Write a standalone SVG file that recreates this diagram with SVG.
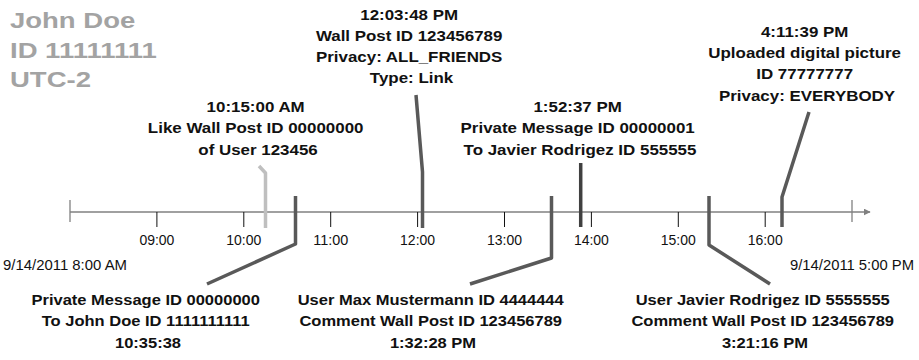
<svg xmlns="http://www.w3.org/2000/svg" width="919" height="360" viewBox="0 0 919 360">
  <style>
    .title { font-family: "Liberation Sans", Arial, sans-serif; font-weight: bold; font-size: 22px; fill: #a3a3a3; }
    .lbl { font-family: "Liberation Sans", Arial, sans-serif; font-weight: bold; font-size: 14px; fill: #111; text-anchor: middle; }
    .hour { font-family: "Liberation Sans", Arial, sans-serif; font-size: 14px; fill: #111; text-anchor: middle; }
    .date { font-family: "Liberation Sans", Arial, sans-serif; font-size: 14px; fill: #111; }
    .axis { stroke: #808080; stroke-width: 1.3; fill: none; }
    .tick { stroke: #111; stroke-width: 1; }
    .edge { stroke: #808080; stroke-width: 1.3; }
    .conn { fill: none; stroke: #595959; stroke-width: 3.5; stroke-linejoin: round; }
    .conn.light { stroke: #bfbfbf; }
    .conn.dark { stroke: #404040; }
  </style>
  <defs>
    <marker id="arrow" viewBox="0 0 10 10" refX="9" refY="5" markerWidth="7" markerHeight="7" markerUnits="userSpaceOnUse" orient="auto">
      <path d="M0,0 L10,5 L0,10 z" fill="#808080"/>
    </marker>
  </defs>

  <!-- Person header -->
  <g id="header">
    <text class="title" transform="translate(10 27.5) scale(1.25 1)">John Doe</text>
    <text class="title" transform="translate(10 57.5) scale(1.25 1)">ID 11111111</text>
    <text class="title" transform="translate(10 87) scale(1.25 1)">UTC-2</text>
  </g>

  <!-- Time axis 8:00 .. 17:00 -->
  <g id="axis">
    <line class="axis" x1="70" y1="212" x2="870" y2="212" marker-end="url(#arrow)"/>
    <line class="edge" x1="70" y1="200" x2="70" y2="222"/>
    <line class="edge" x1="852" y1="200" x2="852" y2="222"/>
    <g class="ticks">
      <line class="tick" x1="156.9" y1="212" x2="156.9" y2="227"/>
      <line class="tick" x1="243.8" y1="212" x2="243.8" y2="227"/>
      <line class="tick" x1="330.7" y1="212" x2="330.7" y2="227"/>
      <line class="tick" x1="417.6" y1="212" x2="417.6" y2="227"/>
      <line class="tick" x1="504.5" y1="212" x2="504.5" y2="227"/>
      <line class="tick" x1="591.4" y1="212" x2="591.4" y2="227"/>
      <line class="tick" x1="678.3" y1="212" x2="678.3" y2="227"/>
      <line class="tick" x1="765.2" y1="212" x2="765.2" y2="227"/>
    </g>
    <text class="hour" x="156.9" y="245" textLength="35" lengthAdjust="spacingAndGlyphs">09:00</text>
    <text class="hour" x="243.8" y="245" textLength="35" lengthAdjust="spacingAndGlyphs">10:00</text>
    <text class="hour" x="330.7" y="245" textLength="35" lengthAdjust="spacingAndGlyphs">11:00</text>
    <text class="hour" x="417.6" y="245" textLength="35" lengthAdjust="spacingAndGlyphs">12:00</text>
    <text class="hour" x="504.5" y="245" textLength="35" lengthAdjust="spacingAndGlyphs">13:00</text>
    <text class="hour" x="591.4" y="245" textLength="35" lengthAdjust="spacingAndGlyphs">14:00</text>
    <text class="hour" x="678.3" y="245" textLength="35" lengthAdjust="spacingAndGlyphs">15:00</text>
    <text class="hour" x="765.2" y="245" textLength="35" lengthAdjust="spacingAndGlyphs">16:00</text>
    <text class="date" x="3" y="270" textLength="124" lengthAdjust="spacingAndGlyphs">9/14/2011 8:00 AM</text>
    <text class="date" x="790" y="270" textLength="124" lengthAdjust="spacingAndGlyphs">9/14/2011 5:00 PM</text>
  </g>

  <!-- Event callout lines -->
  <g id="connectors">
    <path class="conn light" d="M259,166 L265.5,173 L265.5,228"/>
    <path class="conn" d="M295.5,196 L295.5,244 L207,284"/>
    <path class="conn" d="M416,95 L422.5,172 L422.5,228"/>
    <path class="conn" d="M551.5,196 L551.5,258 L470,284"/>
    <path class="conn dark" d="M580.7,163 L580.7,227"/>
    <path class="conn" d="M709,196 L709,245 L770,284"/>
    <path class="conn" d="M782,227 L782,197 L809,112"/>
  </g>

  <!-- Events above the axis -->
  <g id="ev-like">
    <text class="lbl" transform="translate(258 112) scale(1.21 1)">
      <tspan x="0" dy="0">10:15:00 AM</tspan>
      <tspan x="0" dy="21.5">Like Wall Post ID 00000000</tspan>
      <tspan x="0" dy="21.5">of User 123456</tspan>
    </text>
  </g>
  <g id="ev-wallpost">
    <text class="lbl" transform="translate(411.5 19.5) scale(1.21 1)">
      <tspan x="0" dy="0">12:03:48 PM</tspan>
      <tspan x="0" dy="21.2">Wall Post ID 123456789</tspan>
      <tspan x="0" dy="21.2">Privacy: ALL_FRIENDS</tspan>
      <tspan x="0" dy="21.2">Type: Link</tspan>
    </text>
  </g>
  <g id="ev-pm-javier">
    <text class="lbl" transform="translate(580 112) scale(1.21 1)">
      <tspan x="0" dy="0">1:52:37 PM</tspan>
      <tspan x="0" dy="21.5">Private Message ID 00000001</tspan>
      <tspan x="0" dy="21.5">To Javier Rodrigez ID 555555</tspan>
    </text>
  </g>
  <g id="ev-upload">
    <text class="lbl" transform="translate(807 37) scale(1.21 1)">
      <tspan x="0" dy="0">4:11:39 PM</tspan>
      <tspan x="0" dy="21.2">Uploaded digital picture</tspan>
      <tspan x="0" dy="21.2">ID 77777777</tspan>
      <tspan x="0" dy="21.2">Privacy: EVERYBODY</tspan>
    </text>
  </g>

  <!-- Events below the axis -->
  <g id="ev-pm-john">
    <text class="lbl" transform="translate(148 305) scale(1.18 1)">
      <tspan x="0" dy="0">Private Message ID 00000000</tspan>
      <tspan x="0" dy="21.5">To John Doe ID 1111111111</tspan>
      <tspan x="0" dy="21.5">10:35:38</tspan>
    </text>
  </g>
  <g id="ev-comment-max">
    <text class="lbl" transform="translate(433 305) scale(1.18 1)">
      <tspan x="0" dy="0">User Max Mustermann ID 4444444</tspan>
      <tspan x="0" dy="21.5">Comment Wall Post ID 123456789</tspan>
      <tspan x="0" dy="21.5">1:32:28 PM</tspan>
    </text>
  </g>
  <g id="ev-comment-javier">
    <text class="lbl" transform="translate(765 305) scale(1.18 1)">
      <tspan x="0" dy="0">User Javier Rodrigez ID 5555555</tspan>
      <tspan x="0" dy="21.5">Comment Wall Post ID 123456789</tspan>
      <tspan x="0" dy="21.5">3:21:16 PM</tspan>
    </text>
  </g>
</svg>
